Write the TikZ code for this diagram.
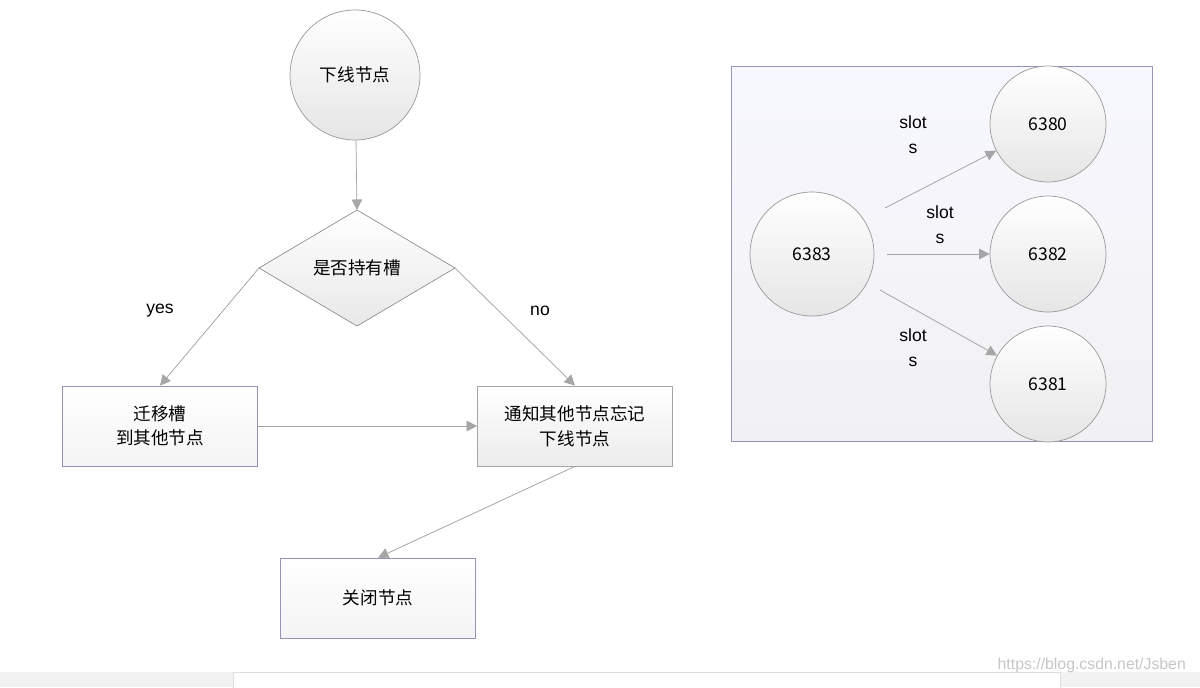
\documentclass[tikz,border=0pt]{standalone}
\usepackage{fontspec}
\setmainfont{Liberation Sans}
\newfontfamily\cjk{Noto Sans CJK SC}
\usetikzlibrary{arrows.meta}

\begin{document}
\begin{tikzpicture}[x=0.02cm, y=-0.02cm, font=\cjk\fontsize{10}{14}\selectfont,
  arr/.style={draw=gray!70, -{Triangle[length=6pt,width=6pt]}, fill=gray!80!black},
  bluebox/.style={draw=blue!20!gray!70, top color=white, bottom color=blue!8!gray!8,
    minimum width=3.9cm, minimum height=1.6cm, align=center},
  greybox/.style={draw=gray!70, top color=white, bottom color=gray!15,
    minimum width=3.9cm, minimum height=1.6cm, align=center},
  rnd/.style={circle, draw=gray!80, top color=white, bottom color=gray!20},
  lbl/.style={font=\fontsize{10}{12}\selectfont, align=center}]
  \useasboundingbox (0,0) rectangle (1200,687);

  % flow chart
  \node[rnd, minimum size=2.6cm] (down) at (355,75) {下线节点};
  \node[draw=gray!80, top color=white, bottom color=gray!18,
    shape=rectangle, minimum size=0cm, inner sep=0pt] (dummy) at (357,268) {};
  \filldraw[draw=gray!80, top color=white, bottom color=gray!18]
    (259,268) -- (357,210) -- (455,268) -- (357,326) -- cycle;
  \node (hold) at (357,268) {是否持有槽};
  \coordinate (hl) at (259,268);
  \coordinate (hr) at (455,268);
  \coordinate (ht) at (357,210);
  \node[bluebox] (move) at (160,426) {迁移槽\\到其他节点};
  \node[greybox] (tell) at (575,426) {通知其他节点忘记\\下线节点};
  \node[bluebox] (close) at (378,598) {关闭节点};

  \draw[arr] (down) -- (ht);
  \draw[arr] (hl) -- (move.north);
  \draw[arr] (hr) -- (tell.north);
  \draw[arr] (move) -- (tell);
  \draw[arr] (tell.south) -- (close.north);
  \node[lbl] (yes) at (160,311) {yes};
  \node[lbl] (no) at (540,311) {no};

  % slots
  \draw[draw=blue!20!gray!70, top color=blue!3, bottom color=blue!8!gray!10]
    (731,66) rectangle (1152,441);
  \node[rnd, minimum size=2.48cm] (s83) at (812,254) {6383};
  \foreach \name/\y in {80/124, 82/254, 81/384}
    \node[rnd, minimum size=2.32cm] (s\name) at (1048,\y) {63\name};
  \coordinate (a0) at (885,208);
  \coordinate (a1) at (887,254);
  \coordinate (a2) at (880,290);
  \draw[arr] (a0) -- (s80);
  \draw[arr] (a1) -- (s82);
  \draw[arr] (a2) -- (s81);
  \foreach \x/\y in {913/135, 940/225, 913/348}
    \node[lbl, font=\fontsize{10}{14}\selectfont] at (\x,\y) {slot\\s};

  % page footer
  \fill[gray!10] (0,672) rectangle (1200,687);
  \filldraw[fill=white, draw=gray!25] (233,672) rectangle (1060,690);
  \node[text=gray!45, font=\fontsize{9}{10}\selectfont, anchor=east] (mark) at (1192,665)
    {https://blog.csdn.net/Jsben};
\end{tikzpicture}
\end{document}
